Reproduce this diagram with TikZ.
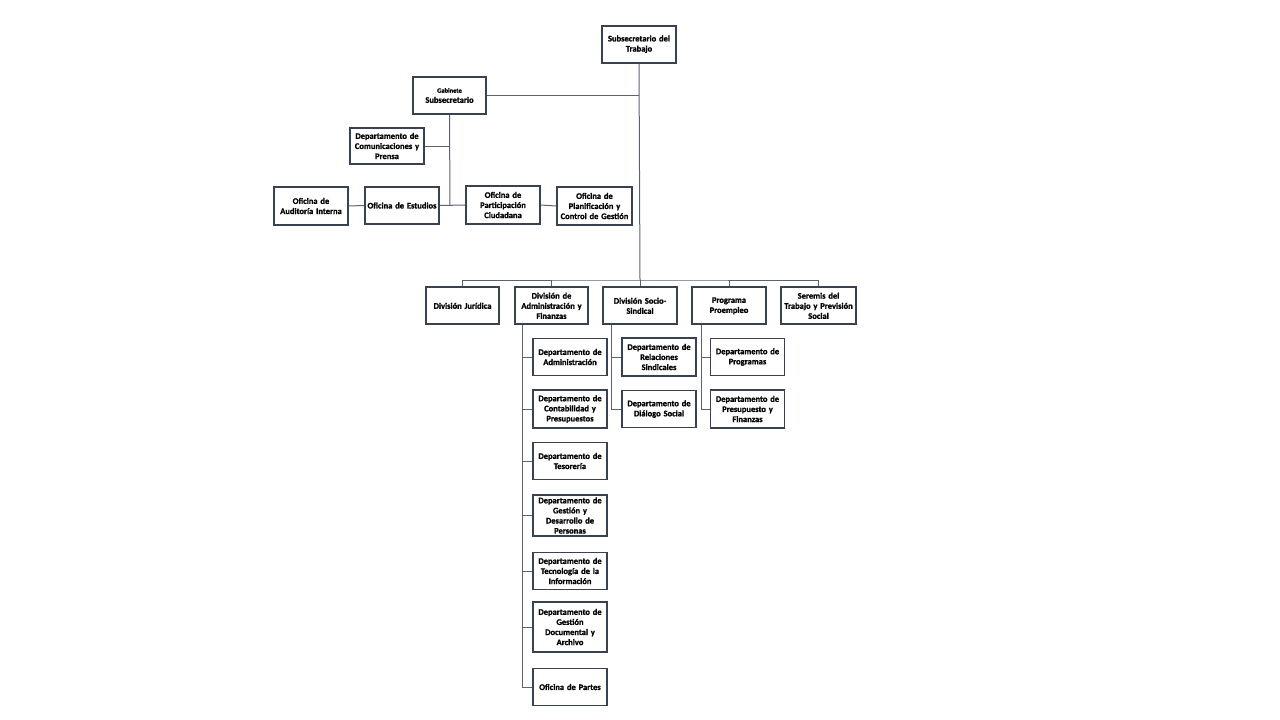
\documentclass[tikz,border=0pt]{standalone}
\usepackage{fontspec}
\setmainfont{Carlito}[BoldFont={Carlito Bold}, BoldFeatures={FakeBold=1.2}]
\definecolor{boxcol}{RGB}{56,66,80}
\definecolor{linecol}{RGB}{90,100,112}
\tikzset{
  box/.style={draw=boxcol, line width=1.7pt, fill=white, rectangle, align=center,
    text width=73pt, inner sep=0.3pt, minimum width=74pt, minimum height=37pt,
    font=\bfseries\fontsize{8.5}{10.1}\selectfont},
  conn/.style={draw=linecol, line width=1pt}
}
\begin{document}
\begin{tikzpicture}[x=1pt,y=-1pt]
\useasboundingbox (0,0) rectangle (1280,720);
% top
\node[box] (sub) at (639,44.2) {Subsecretario del\\Trabajo};
\node[box, minimum width=73pt] (gab) at (449.5,95.5) {{\fontsize{6.5}{8.8}\selectfont Gabinete}\\Subsecretario};
\node[box, minimum height=36pt] (com) at (387,146) {Departamento de\\Comunicaciones y\\Prensa};
\node[box, minimum height=38pt] (aud) at (311,206) {Oficina de\\Auditoría Interna};
\node[box] (est) at (402,205.5) {Oficina de Estudios};
\node[box, minimum height=38pt] (par) at (503,205) {Oficina de\\Participación\\Ciudadana};
\node[box, minimum height=38pt, minimum width=75pt, text width=75pt] (pla) at (594.5,206) {Oficina de\\Planificación y\\Control de Gestión};
% divisions
\node[box, minimum width=73pt] (jur) at (462.5,305.8) {División Jurídica};
\node[box, minimum width=73pt] (adm) at (551.5,305.8) {División de\\Administración y\\Finanzas};
\node[box] (soc) at (640,305.8) {División Socio-\\Sindical};
\node[box] (pro) at (729,305.8) {Programa\\Proempleo};
\node[box, minimum width=73pt, text width=75pt] (ser) at (818.5,305.8) {Seremis del\\Trabajo y Previsión\\Social};
% admin subs
\node[box] (a1) at (570,357) {Departamento de\\Administración};
\node[box, minimum height=38pt] (a2) at (570,409) {Departamento de\\Contabilidad y\\Presupuestos};
\node[box] (a3) at (570,461) {Departamento de\\Tesorería};
\node[box, minimum height=41pt] (a4) at (570,515.5) {Departamento de\\Gestión y\\Desarrollo de\\Personas};
\node[box] (a5) at (570,571) {Departamento de\\Tecnología de la\\Información};
\node[box, minimum height=50pt] (a6) at (570,627) {Departamento de\\Gestión\\Documental y\\Archivo};
\node[box] (a7) at (570,687) {Oficina de Partes};
% socio subs
\node[box, minimum height=38pt] (s1) at (659,357) {Departamento de\\Relaciones\\Sindicales};
\node[box] (s2) at (659,409) {Departamento de\\Diálogo Social};
% proempleo subs
\node[box] (p1) at (747.5,357) {Departamento de\\Programas};
\node[box, minimum height=38pt] (p2) at (747.5,409) {Departamento de\\Presupuesto y\\Finanzas};
% coordinates
\coordinate (bus) at (640,280);
\coordinate (gj) at (450,206);
\coordinate (aX) at (522.3,0);
\coordinate (sX) at (611.5,0);
\coordinate (pX) at (701,0);
% connectors
\draw[conn] (sub.south) -- (bus);
\draw[conn] (gab.east) -- (gab.east -| sub.south);
\draw[conn] (gab.south) -- (gj);
\draw[conn] (com.east) -- (com.east -| gab.south);
\draw[conn] (aud.east) -- (est.west);
\draw[conn] (est.east) -- (par.west);
\draw[conn] (par.east) -- (pla.west);
\draw[conn] (jur.north) |- (bus) -| (ser.north);
\draw[conn] (adm.north) -- (adm.north |- bus);
\draw[conn] (soc.north) -- (soc.north |- bus);
\draw[conn] (pro.north) -- (pro.north |- bus);
\draw[conn] (adm.south -| aX) |- (a7.west);
\foreach \n in {a1,a2,a3,a4,a5,a6} \draw[conn] (\n.west -| aX) -- (\n.west);
\draw[conn] (soc.south -| sX) |- (s2.west);
\draw[conn] (s1.west -| sX) -- (s1.west);
\draw[conn] (pro.south -| pX) |- (p2.west);
\draw[conn] (p1.west -| pX) -- (p1.west);
\end{tikzpicture}
\end{document}
